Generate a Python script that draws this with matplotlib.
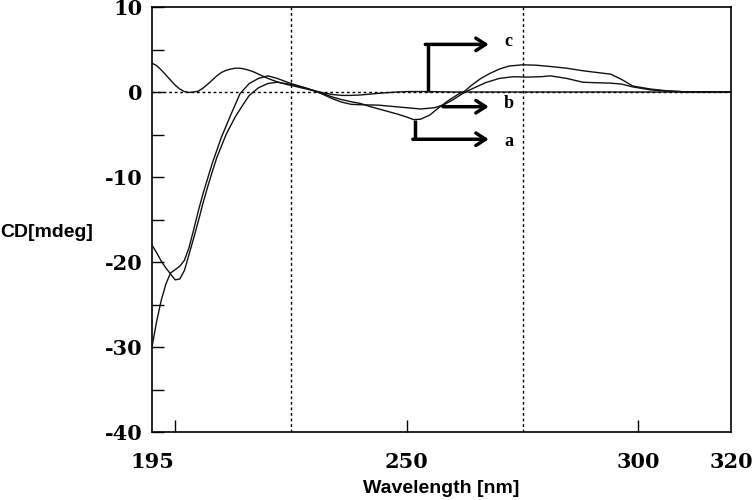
import matplotlib
matplotlib.use("Agg")
import matplotlib.pyplot as plt

# CD spectra
c_wl = [195, 196, 197, 198, 199, 200, 201, 202, 203, 204, 205, 206, 207, 208, 209,
        210, 211, 212, 213, 214, 215, 216, 217, 218, 219, 220, 222, 224, 226, 228,
        230, 232, 234, 236, 238, 240, 242, 244, 246, 248, 250, 255, 260, 280, 300, 320]
c_cd = [3.4, 3.1, 2.6, 2.0, 1.4, 0.8, 0.35, 0.05, -0.05, 0.0, 0.1, 0.45, 0.9, 1.4, 1.9,
        2.3, 2.55, 2.7, 2.8, 2.8, 2.7, 2.55, 2.35, 2.1, 1.85, 1.6, 1.2, 0.9, 0.65, 0.4,
        0.15, -0.1, -0.3, -0.4, -0.4, -0.35, -0.25, -0.15, -0.07, 0.0, 0.05, 0.05, 0.0, 0.0, 0.0, 0.0]

a_wl = [195, 196, 197, 198, 199, 200, 201, 202, 203, 204, 205, 206, 207, 208, 209,
        211, 213, 215, 216, 218, 220, 222, 225, 228, 230, 232, 234, 236, 238, 240,
        242, 244, 246, 248, 250, 251.5, 253, 255, 257, 259, 261, 262.5, 264, 266, 268,
        270, 272, 275, 278, 281, 284.5, 288, 291, 294, 296.3, 298.8, 302.6, 306, 310, 320]
a_cd = [-18.0, -18.9, -19.9, -20.7, -21.4, -22.1, -22.0, -21.0, -19.1, -17.2, -15.2, -13.1, -11.2, -9.4, -7.7,
        -5.0, -2.9, -1.2, -0.4, 0.5, 1.0, 1.15, 0.9, 0.5, 0.15, -0.2, -0.6, -0.9, -1.15, -1.35,
        -1.7, -2.0, -2.3, -2.6, -2.95, -3.25, -3.2, -2.7, -1.8, -1.0, -0.3, 0.1, 0.8, 1.6, 2.2,
        2.7, 3.05, 3.2, 3.15, 3.0, 2.8, 2.5, 2.3, 2.1, 1.5, 0.7, 0.35, 0.15, 0.02, 0.0]

b_wl = [195, 196, 197, 198, 199, 200, 201, 202, 203, 204, 205, 206, 207, 208, 210,
        212, 214, 216, 218, 220, 222, 225, 228, 230, 232, 234, 236, 238, 240, 244,
        247, 250, 253, 256, 258, 260, 262, 263, 265, 267, 270, 273, 276, 279, 281,
        284.5, 288, 290.3, 293.7, 296.3, 298.8, 302.6, 306, 311, 320]
b_cd = [-30.0, -27.0, -24.5, -22.6, -21.3, -20.9, -20.5, -19.8, -18.3, -16.2, -14.0, -12.0, -10.2, -8.4, -5.3,
        -2.7, -0.2, 1.0, 1.6, 1.9, 1.6, 1.0, 0.5, 0.15, -0.3, -0.8, -1.2, -1.45, -1.5, -1.55,
        -1.7, -1.85, -2.0, -1.85, -1.5, -0.9, -0.2, 0.1, 0.6, 1.1, 1.6, 1.8, 1.75, 1.8, 1.9,
        1.6, 1.15, 1.1, 1.05, 0.94, 0.6, 0.25, 0.12, 0.0, 0.0]

x_ticks = [200, 250, 300]
x_labels = [195, 250, 300, 320]
y_major = [-40, -30, -20, -10, 0, 10]
y_minor = [-35, -25, -15, -5, 5]

num_font = {"family": "DejaVu Serif", "weight": "bold", "size": 15}
lab_font = {"family": "Liberation Sans", "weight": "bold", "size": 14}

fig = plt.figure(figsize=(7.55, 5.0), dpi=100)
ax = fig.add_axes([0.2013, 0.136, 0.767, 0.850])

for wl, cd in [(a_wl, a_cd), (b_wl, b_cd), (c_wl, c_cd)]:
    ax.plot(wl, cd, color="#111111", lw=1.0, zorder=3)

# dotted reference lines
ax.axhline(0, color="black", lw=1.0, ls=(0, (2, 2)), zorder=2)
for xv in [225, 275]:
    ax.axvline(xv, color="black", lw=1.0, ls=(0, (2, 2)), zorder=2)

ax.set_xlim(195, 320)
ax.set_ylim(-40, 10)

ax.set_xticks(x_ticks)
ax.set_xticklabels([])
ax.set_yticks(y_major)
ax.set_yticks(y_minor, minor=True)
ax.set_yticklabels([str(v) for v in y_major], fontdict=num_font)
ax.tick_params(axis="both", which="both", direction="in", length=8.6, width=1.0)
ax.tick_params(axis="y", pad=6.5)
for v in x_labels:
    ax.text(v, -0.047, str(v), transform=ax.get_xaxis_transform(), ha="center", va="top",
            fontdict=num_font)

for s in ax.spines.values():
    s.set_linewidth(1.2)

ax.set_xlabel("Wavelength [nm]", fontdict=lab_font)
ax.xaxis.set_label_coords(0.5, -0.113)
ax.set_ylabel("CD[mdeg]", fontdict=lab_font, rotation=0, ha="left", va="center")
ax.yaxis.set_label_coords(-0.262, 0.47)

# arrows pointing at the curves
arr = dict(arrowstyle="->,head_length=0.7,head_width=0.45", lw=2.5, color="black",
           shrinkA=0, shrinkB=0)
ax.plot([254.5, 254.5], [0, 5.6], color="black", lw=2.5, solid_capstyle="butt")
ax.annotate("", xy=(267.7, 5.6), xytext=(254.0, 5.6), arrowprops=arr)
ax.annotate("", xy=(267.7, -1.73), xytext=(257.8, -1.73), arrowprops=arr)
ax.plot([251.8, 251.8], [-3.3, -5.56], color="black", lw=2.5, solid_capstyle="butt")
ax.annotate("", xy=(267.7, -5.56), xytext=(251.3, -5.56), arrowprops=arr)
let_font = {"family": "Liberation Serif", "weight": "bold", "size": 13}
ax.text(271.0, 5.9, "c", fontdict=let_font, ha="left", va="center")
ax.text(271.0, -1.35, "b", fontdict=let_font, ha="left", va="center")
ax.text(271.0, -5.8, "a", fontdict=let_font, ha="left", va="center")

fig.savefig("out.png", dpi=100)
